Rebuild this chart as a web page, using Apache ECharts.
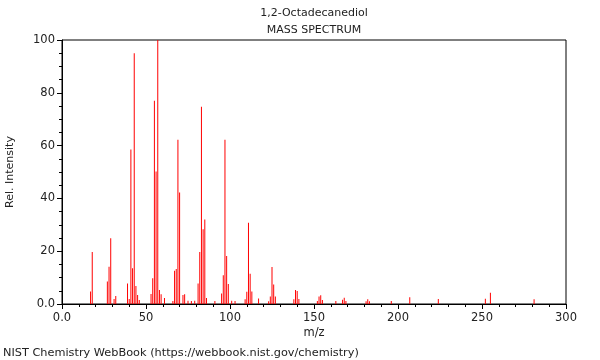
<!DOCTYPE html>
<html>
<head>
<meta charset="utf-8">
<script src="https://cdn.jsdelivr.net/npm/echarts@6/dist/echarts.min.js"></script>
<style>
html,body{margin:0;padding:0;background:#fff;}
#chart{width:600px;height:360px;}
</style>
</head>
<body>
<div id="chart"></div>
<script>
var mz = [17,18,27,28,29,31,32,39,40,41,42,43,44,45,46,53,54,55,56,57,58,59,61,66,67,68,69,70,72,73,75,77,79,81,82,83,84,85,86,91,95,96,97,98,99,101,103,109,110,111,112,113,117,123,124,125,126,127,138,139,140,141,152,153,154,155,163,167,168,169,181,182,183,196,207,224,252,255,281];
var intensity = [4.7,19.7,8.5,14.1,24.9,1.9,3.0,7.8,1.9,58.5,13.5,95,6.8,3.4,1.5,3.8,9.8,77,50.2,100,5.3,3.7,2.3,1.1,12.6,13.3,62.2,42.2,3.4,3.7,1.2,1.1,1.2,7.8,19.7,74.7,28.3,32,2.3,1.1,4,10.9,62.2,18.2,7.6,1.2,1.1,1.8,4.6,30.8,11.5,4.7,2.1,1,2.8,14,7.4,2.8,1.8,5.3,4.9,1.9,1.1,2.8,3.3,1.5,1.1,1.6,2.4,1.1,1,1.8,1,1.1,2.6,1.9,2,4.3,1.8];
var xTicks = [0,50,100,150,200,250,300];
var yTicks = [0,20,40,60,80,100];

var points = mz.map(function(m, i){ return [m, intensity[i]]; });
var fmt = function(v){ return v === 0 ? '0.0' : String(v); };
var font = 'DejaVu Sans';
var txt = '#222';

var chart = echarts.init(document.getElementById('chart'), null, {renderer:'canvas'});
chart.setOption({
  animation: false,
  backgroundColor: '#fff',
  grid: {left: 62, right: 34, top: 40, bottom: 56, show: true, borderColor: '#000', borderWidth: 1, backgroundColor: 'transparent'},
  xAxis: {
    type: 'value', min: xTicks[0], max: xTicks[xTicks.length-1], interval: 50,
    axisLine: {show: true, lineStyle: {color: '#000', width: 1}},
    axisTick: {show: true, length: 5, lineStyle: {color: '#000'}},
    minorTick: {show: true, splitNumber: 5, length: 3, lineStyle: {color: '#000'}},
    splitLine: {show: false},
    axisLabel: {formatter: fmt, color: txt, fontFamily: font, fontSize: 11.5, margin: 8}
  },
  yAxis: {
    type: 'value', min: yTicks[0], max: yTicks[yTicks.length-1], interval: 20,
    axisLine: {show: true, lineStyle: {color: '#000', width: 1}},
    axisTick: {show: true, length: 5, lineStyle: {color: '#000'}},
    minorTick: {show: true, splitNumber: 4, length: 3, lineStyle: {color: '#000'}},
    splitLine: {show: false},
    axisLabel: {formatter: fmt, color: txt, fontFamily: font, fontSize: 11.5, margin: 7}
  },
  series: [{
    type: 'bar',
    data: points,
    barWidth: 1,
    itemStyle: {color: '#ff0000'},
    silent: true
  }],
  graphic: [
    {type: 'text', x: 314, y: 13, style: {text: '1,2-Octadecanediol', align: 'center', verticalAlign: 'middle', font: '11px "DejaVu Sans"', fill: txt}},
    {type: 'text', x: 314, y: 30, style: {text: 'MASS SPECTRUM', align: 'center', verticalAlign: 'middle', font: '11px "DejaVu Sans"', fill: txt}},
    {type: 'text', x: 314, y: 333, style: {text: 'm/z', align: 'center', verticalAlign: 'middle', font: '11.5px "DejaVu Sans"', fill: txt}},
    {type: 'text', x: 10, y: 172, rotation: Math.PI/2, style: {text: 'Rel. Intensity', align: 'center', verticalAlign: 'middle', font: '11px "DejaVu Sans"', fill: txt}},
    {type: 'text', x: 3, y: 353, style: {text: 'NIST Chemistry WebBook (https://webbook.nist.gov/chemistry)', align: 'left', verticalAlign: 'middle', font: '11.3px "DejaVu Sans"', fill: txt}}
  ]
});
</script>
</body>
</html>
